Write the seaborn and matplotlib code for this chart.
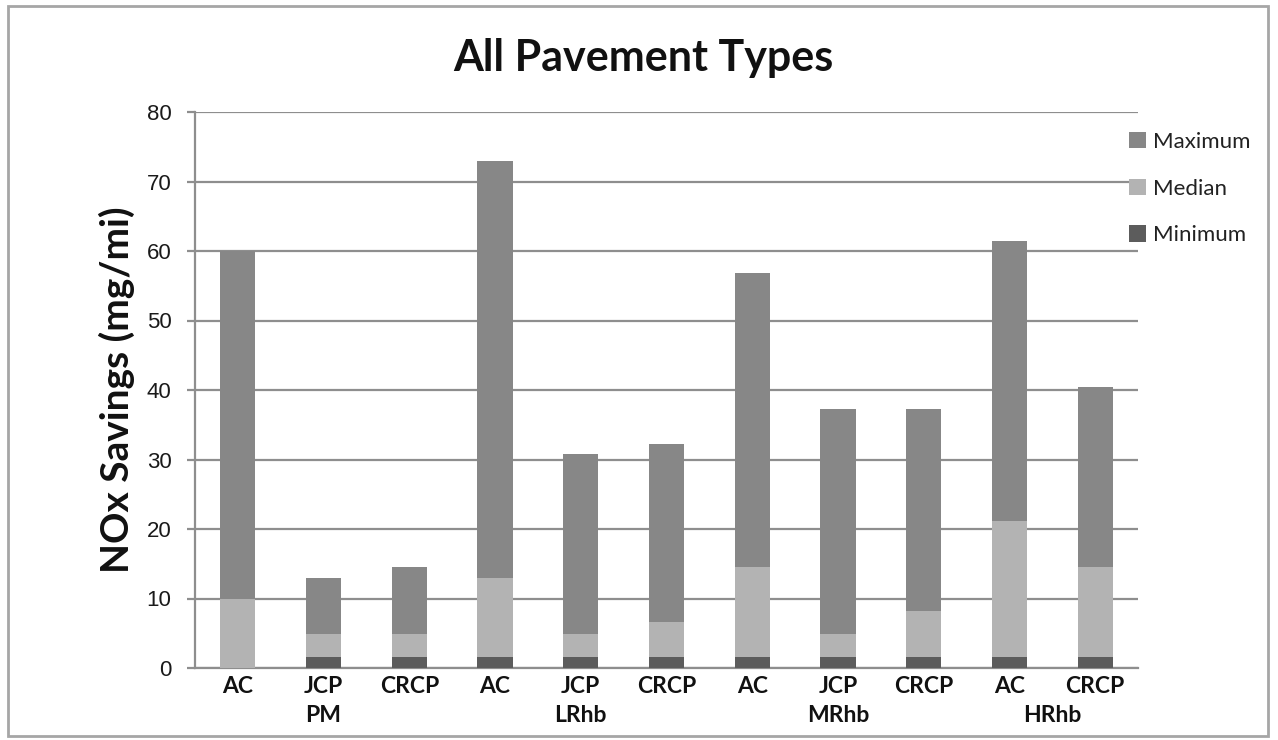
import matplotlib
matplotlib.use("Agg")
import matplotlib.pyplot as plt
import seaborn as sns
import pandas as pd
from matplotlib.patches import Patch, Rectangle
import matplotlib.transforms as mtransforms

# ---- data ----
bar_labels = ["AC", "JCP", "CRCP", "AC", "JCP", "CRCP", "AC", "JCP", "CRCP", "AC", "CRCP"]
groups = ["PM", "PM", "PM", "LRhb", "LRhb", "LRhb", "MRhb", "MRhb", "MRhb", "HRhb", "HRhb"]
maximum = [60.0, 13.0, 14.6, 73.0, 30.8, 32.3, 56.8, 37.2, 37.2, 61.5, 40.5]
median = [10.0, 4.9, 4.9, 13.0, 4.9, 6.6, 14.6, 4.9, 8.2, 21.1, 14.6]
minimum = [0.0, 1.6, 1.6, 1.6, 1.6, 1.6, 1.6, 1.6, 1.6, 1.6, 1.6]
group_names = ["PM", "LRhb", "MRhb", "HRhb"]
series_names = ["Maximum", "Median", "Minimum"]
yticks = [0, 10, 20, 30, 40, 50, 60, 70, 80]

ids = [f"{g}-{b}" for g, b in zip(groups, bar_labels)]
df = pd.DataFrame({"id": ids, "Maximum": maximum, "Median": median, "Minimum": minimum})

colors = {"Maximum": "#878787", "Median": "#b3b3b3", "Minimum": "#5c5c5c"}
grid_c = "#8e8e8e"

sns.set_theme(style="white")
plt.rcParams["font.family"] = ["Lato", "DejaVu Sans"]

fig = plt.figure(figsize=(12.78, 7.4), dpi=100)
ax = fig.add_axes([195 / 1278, 1 - 668 / 740, (1138 - 195) / 1278, (668 - 112) / 740])

for s in series_names:
    sns.barplot(data=df, x="id", y=s, order=ids, color=colors[s], width=0.41,
                saturation=1, ax=ax, zorder=3, linewidth=0)

ax.set_ylim(0, 80)
ax.set_xlim(-0.5, len(ids) - 0.5)
ax.set_yticks(yticks)
ax.set_yticklabels([str(t) for t in yticks], fontfamily="Liberation Sans", fontsize=16, color="#1a1a1a")
ax.yaxis.grid(True, color=grid_c, linewidth=1.6, zorder=0)
ax.set_axisbelow(True)
ax.tick_params(axis="y", which="major", direction="out", length=6, width=1.6, color=grid_c, pad=11, left=True)
ax.tick_params(axis="x", length=0, pad=6)

ax.set_xticks(range(len(ids)))
ax.set_xticklabels(bar_labels, fontsize=16.5, fontweight="bold", color="#111111")
ax.set_xlabel("")
ax.set_ylabel("NOx Savings (mg/mi)", fontsize=28, fontweight="bold", color="#111111", labelpad=8)

for side in ["top", "right"]:
    ax.spines[side].set_visible(False)
for side in ["left", "bottom"]:
    ax.spines[side].set_color(grid_c)
    ax.spines[side].set_linewidth(1.6)

# group labels (second line)
trans = mtransforms.blended_transform_factory(ax.transData, fig.transFigure)
for g in group_names:
    pos = [i for i, gg in enumerate(groups) if gg == g]
    center = sum(pos) / len(pos)
    ax.text(center, 1 - 715 / 740, g, transform=trans, ha="center", va="center",
            fontsize=16.5, fontweight="bold", color="#111111")

fig.text(643 / 1278, 1 - 58 / 740, "All Pavement Types", ha="center", va="center",
         fontsize=31, fontweight="bold", color="#111111")

handles = [Patch(facecolor=colors[s], edgecolor="none", label=s) for s in series_names]
fig.legend(handles=handles, loc="upper left", bbox_to_anchor=(1109 / 1278, 1 - 112 / 740),
           frameon=False, fontsize=16, handlelength=0.75, handleheight=0.75, handletextpad=0.35,
           labelspacing=1.2, labelcolor="#222222")

fig.patches.append(Rectangle((8 / 1278, 4 / 740), (1268 - 8) / 1278, (734 - 4) / 740,
                             transform=fig.transFigure, fill=False, edgecolor="#a6a6a6",
                             linewidth=2))

fig.savefig("out.png", dpi=100, facecolor="white")
